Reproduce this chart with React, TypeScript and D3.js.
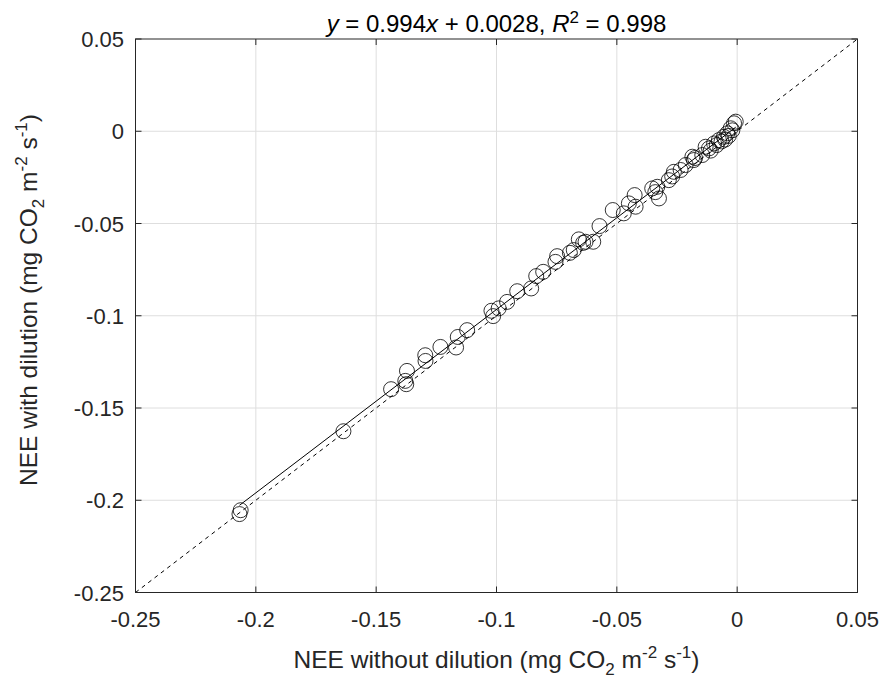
import React from 'react';
import * as d3 from 'd3';

// NEE pairs: [without dilution, with dilution]
const neeWithout = [
  -0.2063, -0.2068, -0.1636, -0.1438, -0.1379, -0.1372, -0.1375, -0.1296, -0.1295, -0.1233,
  -0.1168, -0.1161, -0.1122, -0.1021, -0.1014, -0.0991, -0.0956, -0.0914, -0.0856, -0.0835,
  -0.0806, -0.0755, -0.0748, -0.0695, -0.0679, -0.0658, -0.064, -0.0598, -0.063, -0.0572,
  -0.0517, -0.0471, -0.045, -0.0426, -0.0422, -0.0353, -0.0332, -0.0325, -0.034, -0.0284,
  -0.0263, -0.027, -0.0235, -0.0214, -0.0186, -0.018, -0.0175, -0.0145, -0.0131, -0.0117,
  -0.011, -0.0096, -0.0085, -0.0076, -0.0065, -0.0055, -0.005, -0.0041, -0.0035, -0.0027,
  -0.0013, -0.0006, -0.002,
];
const neeWith = [
  -0.2054, -0.2075, -0.1626, -0.1398, -0.1353, -0.1299, -0.1371, -0.1214, -0.1245, -0.1169,
  -0.1172, -0.1115, -0.1078, -0.0973, -0.1002, -0.096, -0.0925, -0.0867, -0.0852, -0.0785,
  -0.0762, -0.0708, -0.0677, -0.0659, -0.0644, -0.0586, -0.0605, -0.0599, -0.0599, -0.0514,
  -0.0427, -0.0445, -0.0391, -0.0346, -0.0409, -0.031, -0.0301, -0.0364, -0.033, -0.0265,
  -0.022, -0.0245, -0.021, -0.0183, -0.0138, -0.0156, -0.0145, -0.0129, -0.0084, -0.0093,
  -0.0105, -0.0066, -0.0075, -0.0048, -0.0055, -0.003, -0.0045, -0.0011, -0.0025, 0.0016,
  0.0043, 0.0052, 0.0005,
];

const tickValues = [-0.25, -0.2, -0.15, -0.1, -0.05, 0, 0.05];
const slope = 0.994;
const intercept = 0.0028;

const W = 882;
const H = 684;
const left = 135.5;
const right = 857.5;
const top = 39;
const bottom = 592.5;
const font = 'Arial, "Liberation Sans", Helvetica, sans-serif';
const axisColor = '#262626';

const fmt = (v: number) => (v === 0 ? '0' : String(+v.toFixed(2)));

export default function App() {
  const x = d3.scaleLinear().domain([-0.25, 0.05]).range([left, right]);
  const y = d3.scaleLinear().domain([-0.25, 0.05]).range([bottom, top]);

  const xMin = d3.min(neeWithout) as number;
  const xMax = d3.max(neeWithout) as number;
  const fitLine = d3.line<number>()
    .x(d => x(d))
    .y(d => y(slope * d + intercept))([xMin, xMax]);
  const oneToOne = d3.line<number>()
    .x(d => x(d))
    .y(d => y(d))([-0.25, 0.05]);

  const tickLen = 6;
  const labelSize = 24.5;
  const subSize = 17;

  const unitSpans = (
    <>
      <tspan dy={7} fontSize={subSize}>2</tspan>
      <tspan dy={-7}> m</tspan><tspan dy={-10} fontSize={subSize}>-2</tspan>
      <tspan dy={10}> s</tspan><tspan dy={-10} fontSize={subSize}>-1</tspan><tspan dy={10}>)</tspan>
    </>
  );

  return (
    <svg width={W} height={H} style={{ position: 'absolute', left: 0, top: 0, background: '#fff' }}
      fontFamily={font}>
      <rect x={0} y={0} width={W} height={H} fill="#fff" />
      {/* grid */}
      {tickValues.slice(1, -1).map(t => (
        <g key={'g' + t}>
          <line x1={x(t)} x2={x(t)} y1={top} y2={bottom} stroke="#dedede" strokeWidth={1} />
          <line x1={left} x2={right} y1={y(t)} y2={y(t)} stroke="#dedede" strokeWidth={1} />
        </g>
      ))}
      {/* 1:1 line */}
      <path d={oneToOne ?? ''} fill="none" stroke="#000" strokeWidth={1} strokeDasharray="4,4" />
      {/* fit line */}
      <path d={fitLine ?? ''} fill="none" stroke="#000" strokeWidth={1} />
      {/* markers */}
      {neeWithout.map((v, i) => (
        <circle key={i} cx={x(v)} cy={y(neeWith[i])} r={7.5} fill="none" stroke="#000" strokeWidth={0.8} />
      ))}
      {/* box */}
      <rect x={left} y={top} width={right - left} height={bottom - top} fill="none" stroke={axisColor} strokeWidth={1} />
      {tickValues.map(t => (
        <g key={'t' + t} stroke={axisColor} strokeWidth={1}>
          <line x1={x(t)} x2={x(t)} y1={bottom} y2={bottom - tickLen} />
          <line x1={x(t)} x2={x(t)} y1={top} y2={top + tickLen} />
          <line x1={left} x2={left + tickLen} y1={y(t)} y2={y(t)} />
          <line x1={right} x2={right - tickLen} y1={y(t)} y2={y(t)} />
        </g>
      ))}
      {/* tick labels */}
      {tickValues.map(t => (
        <text key={'xl' + t} x={x(t)} y={627} textAnchor="middle" fontSize={22} fill="#262626">{fmt(t)}</text>
      ))}
      {tickValues.map(t => (
        <text key={'yl' + t} x={124} y={y(t) + 8} textAnchor="end" fontSize={22} fill="#262626">{fmt(t)}</text>
      ))}
      {/* x label */}
      <text x={(left + right) / 2} y={668} textAnchor="middle" fontSize={labelSize} fill="#262626">
        NEE without dilution (mg CO{unitSpans}
      </text>
      {/* y label */}
      <text transform={`translate(37,300) rotate(-90)`} textAnchor="middle" fontSize={labelSize} fill="#262626">
        NEE with dilution (mg CO{unitSpans}
      </text>
      {/* title */}
      <text x={(left + right) / 2} y={32} textAnchor="middle" fontSize={24} fill="#000">
        <tspan fontStyle="italic">y</tspan> = 0.994<tspan fontStyle="italic">x</tspan> + 0.0028, <tspan fontStyle="italic">R</tspan>
        <tspan dy={-9} fontSize={17}>2</tspan><tspan dy={9}> = 0.998</tspan>
      </text>
    </svg>
  );
}
